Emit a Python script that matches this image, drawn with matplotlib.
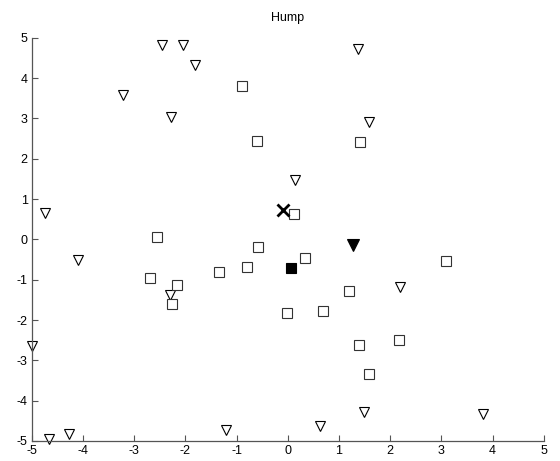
import matplotlib
matplotlib.use("Agg")
import matplotlib.pyplot as plt

plt.rcParams['font.family'] = ['Liberation Sans', 'DejaVu Sans']

tri_x = [-2.46, -2.05, -1.81, -3.23, -2.28, -4.74, 1.38, 1.59, 0.14, -4.10,
         -2.30, -4.99, -4.27, -4.66, -1.21, 2.20, 1.48, 3.81, 0.62]
tri_y = [4.83, 4.83, 4.32, 3.58, 3.03, 0.65, 4.71, 2.90, 1.47, -0.51,
         -1.38, -2.65, -4.82, -4.94, -4.73, -1.18, -4.28, -4.32, -4.63]
sq_x = [-0.89, -0.60, 1.41, 0.12, -2.56, -0.58, -2.69, -2.16, -1.34, -0.79,
        -2.27, 0.33, 3.09, 1.20, -0.01, 0.69, 1.39, 2.17, 1.59]
sq_y = [3.80, 2.45, 2.42, 0.62, 0.05, -0.18, -0.95, -1.12, -0.80, -0.68,
        -1.59, -0.45, -0.53, -1.27, -1.82, -1.77, -2.61, -2.50, -3.33]
best_sq = ([0.07], [-0.72])
best_tri = ([1.27], [-0.14])
cross = ([-0.09], [0.74])
ticks = [-5, -4, -3, -2, -1, 0, 1, 2, 3, 4, 5]

fig = plt.figure(figsize=(5.6, 4.61), dpi=100)
ax = fig.add_axes([0.057, 0.0434, 0.914, 0.8746])

ax.plot(tri_x, tri_y, linestyle='none', marker='v', markersize=7.5, clip_on=False,
        markerfacecolor='white', markeredgecolor='black', markeredgewidth=0.8)
ax.plot(sq_x, sq_y, linestyle='none', marker='s', markersize=7, clip_on=False,
        markerfacecolor='white', markeredgecolor='#333333', markeredgewidth=0.8)
ax.plot(*best_sq, linestyle='none', marker='s', markersize=7.5, clip_on=False,
        markerfacecolor='black', markeredgecolor='black', markeredgewidth=0.8)
ax.plot(*best_tri, linestyle='none', marker='v', markersize=8, clip_on=False,
        markerfacecolor='black', markeredgecolor='black', markeredgewidth=0.8)
ax.plot(*cross, linestyle='none', marker='x', markersize=8, clip_on=False,
        markeredgecolor='black', markeredgewidth=2)

ax.set_xlim(-5, 5)
ax.set_ylim(-5, 5)
ax.set_xticks(ticks)
ax.set_yticks(ticks)
ax.set_xticklabels([str(t) for t in ticks])
ax.set_yticklabels([str(t) for t in ticks])
ax.tick_params(direction='in', length=4, width=0.8, labelsize=9,
               color='#555555', labelcolor='black', pad=3)
for s in ['top', 'right']:
    ax.spines[s].set_visible(False)
for s in ['left', 'bottom']:
    ax.spines[s].set_color('#555555')
    ax.spines[s].set_linewidth(0.9)
ax.set_title('Hump', fontsize=9, pad=12)

fig.savefig('out.png', dpi=100)
